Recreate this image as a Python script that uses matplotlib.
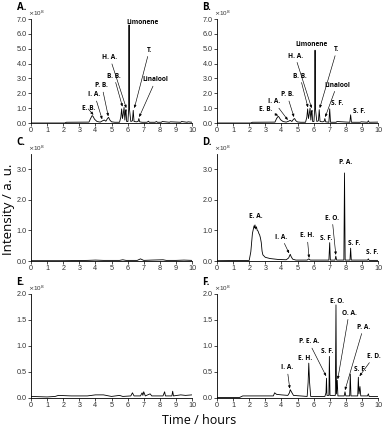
import matplotlib
matplotlib.use("Agg")
import matplotlib.pyplot as plt
from matplotlib.ticker import FormatStrFormatter


# chromatogram traces, time in hours, intensity in units of 1e8
a_time = [0, 2.1, 2.2, 3.6, 3.7, 3.8, 3.85, 3.95, 4.1, 4.3, 4.45, 4.55, 4.65,
          4.75, 4.82, 4.9, 5.0, 5.2, 5.5, 5.58, 5.63, 5.68, 5.73, 5.78, 5.83,
          5.87, 5.9, 5.94, 6.02, 6.07, 6.09, 6.11, 6.2, 6.3, 6.35, 6.4, 6.55,
          6.65, 6.7, 6.75, 6.9, 7.2, 7.3, 7.35, 7.7, 7.8, 7.85, 8.1, 8.15,
          8.6, 8.65, 9.3, 9.35, 9.7, 9.75, 10]
a_int = [0, 0, 0.05, 0.06, 0.3, 0.5, 0.45, 0.25, 0.1, 0.06, 0.15, 0.2, 0.12,
         0.3, 0.38, 0.2, 0.08, 0.05, 0.05, 0.4, 0.95, 0.3, 0.6, 1.05, 0.2,
         0.7, 0.9, 0.1, 0.1, 1.0, 6.6, 1.0, 0.1, 0.15, 0.85, 0.1, 0.08,
         0.1, 0.3, 0.08, 0.05, 0.05, 0.12, 0.05, 0.05, 0.1, 0.05, 0.05, 0.1,
         0.05, 0.08, 0.05, 0.1, 0.05, 0.08, 0.05]

b_time = [0, 2.1, 2.2, 3.6, 3.7, 3.8, 3.85, 3.95, 4.1, 4.3, 4.45, 4.55, 4.65,
          4.75, 4.82, 4.9, 5.0, 5.2, 5.5, 5.58, 5.63, 5.68, 5.73, 5.78, 5.83,
          5.87, 5.9, 5.94, 6.02, 6.07, 6.09, 6.11, 6.2, 6.3, 6.35, 6.4, 6.55,
          6.65, 6.7, 6.75, 6.95, 7.0, 7.05, 7.4, 7.45, 8.25, 8.3, 8.35, 8.9,
          8.95, 9.35, 9.4, 9.45, 10]
b_int = [0, 0, 0.05, 0.06, 0.3, 0.45, 0.4, 0.22, 0.1, 0.06, 0.12, 0.18, 0.1,
         0.25, 0.3, 0.15, 0.07, 0.05, 0.05, 0.4, 0.95, 0.3, 0.6, 1.0, 0.2,
         0.7, 0.85, 0.1, 0.1, 1.0, 4.9, 1.0, 0.1, 0.15, 0.9, 0.1, 0.08,
         0.1, 0.3, 0.08, 0.05, 0.95, 0.05, 0.05, 0.1, 0.05, 0.55, 0.05, 0.05,
         0.08, 0.05, 0.15, 0.05, 0.06]

c_time = [0, 2.0, 3.5, 4.0, 4.5, 5.5, 5.7, 5.9, 6.6, 6.8, 7.0, 7.5, 8.2, 8.4,
          9.0, 9.5, 10]
c_int = [0.01, 0.01, 0.02, 0.03, 0.02, 0.02, 0.04, 0.02, 0.02, 0.07, 0.02,
         0.03, 0.04, 0.02, 0.02, 0.03, 0.02]

d_time = [0, 2.0, 2.1, 2.2, 2.3, 2.33, 2.36, 2.4, 2.45, 2.5, 2.55, 2.6, 2.65,
          2.7, 2.75, 2.8, 2.85, 3.0, 3.3, 3.8, 4.3, 4.45, 4.55, 4.6, 4.7,
          4.9, 5.6, 5.7, 5.8, 6.95, 7.0, 7.04, 7.33, 7.38, 7.43, 7.88,
          7.92, 7.96, 8.26, 8.3, 8.34, 9.35, 9.4, 9.45, 10]
d_int = [0.01, 0.02, 0.3, 0.9, 1.15, 1.08, 1.18, 1.05, 1.12, 1.0, 0.98, 0.9,
         0.85, 0.75, 0.6, 0.32, 0.2, 0.12, 0.08, 0.05, 0.04, 0.1, 0.22, 0.15,
         0.06, 0.03, 0.03, 0.07, 0.03, 0.03, 0.6, 0.03, 0.03, 0.16, 0.03,
         0.03, 2.88, 0.03, 0.03, 0.42, 0.03, 0.03, 0.07, 0.02, 0.02]

e_time = [0, 1.0, 1.5, 1.7, 2.5, 3.5, 4.0, 4.5, 5.0, 5.5, 5.7, 6.2, 6.3,
          6.4, 6.8, 6.9, 6.95, 7.0, 7.1, 7.4, 7.5, 8.2, 8.3, 8.35, 8.75,
          8.8, 8.85, 9.3, 9.6, 10]
e_int = [0.03, 0.02, 0.03, 0.05, 0.04, 0.04, 0.06, 0.06, 0.03, 0.05, 0.03,
         0.04, 0.1, 0.04, 0.04, 0.1, 0.05, 0.12, 0.04, 0.08, 0.04, 0.04,
         0.12, 0.04, 0.04, 0.13, 0.04, 0.06, 0.05, 0.06]

f_time = [0, 1.4, 1.6, 3.5, 3.58, 3.7, 4.0, 4.4, 4.5, 4.55, 4.62, 4.75,
          5.6, 5.66, 5.7, 5.75, 5.82, 6.7, 6.77, 6.8, 6.83, 6.95, 6.98,
          7.02, 7.35, 7.39, 7.42, 7.47, 7.51, 7.9, 7.95, 8.0, 8.24, 8.28,
          8.32, 8.74, 8.78, 8.82, 8.88, 8.93, 9.35, 9.4, 9.45, 10]
f_int = [0.01, 0.01, 0.04, 0.04, 0.1, 0.07, 0.06, 0.05, 0.1, 0.16, 0.12,
         0.05, 0.03, 0.3, 0.67, 0.3, 0.03, 0.03, 0.1, 0.38, 0.05, 0.05,
         0.8, 0.05, 0.05, 1.79, 0.08, 0.34, 0.04, 0.04, 0.12, 0.04, 0.04,
         0.46, 0.04, 0.04, 0.4, 0.08, 0.22, 0.04, 0.04, 0.08, 0.03, 0.03]

# labels: text, text position (t, v), arrow tip (t, v) or None
a_labels = [("Limonene", (6.95, 6.78), None),
            ("T.", (7.35, 4.9), (6.42, 1.0)),
            ("H. A.", (4.9, 4.4), (5.92, 1.0)),
            ("B. B.", (5.15, 3.15), (5.68, 1.1)),
            ("P. B.", (4.4, 2.5), (4.8, 0.45)),
            ("I. A.", (3.95, 1.9), (4.42, 0.25)),
            ("E. B.", (3.55, 0.95), (3.88, 0.55)),
            ("Linalool", (7.75, 2.9), (6.72, 0.4))]
b_labels = [("Limonene", (5.9, 5.25), None),
            ("T.", (7.45, 4.95), (6.38, 1.0)),
            ("H. A.", (4.85, 4.5), (5.88, 1.0)),
            ("B. B.", (5.15, 3.15), (5.65, 1.05)),
            ("P. B.", (4.35, 1.9), (4.78, 0.4)),
            ("I. A.", (3.55, 1.42), (4.4, 0.2)),
            ("E. B.", (3.0, 0.9), (3.8, 0.5)),
            ("Linalool", (7.45, 2.55), (6.72, 0.4)),
            ("S. F.", (7.45, 1.3), None),
            ("S. F.", (8.85, 0.75), None)]
d_labels = [("E. A.", (2.4, 1.45), None),
            ("I. A.", (4.0, 0.78), (4.48, 0.25)),
            ("E. H.", (5.6, 0.82), (5.72, 0.1)),
            ("S. F.", (6.8, 0.72), None),
            ("E. O.", (7.15, 1.4), (7.38, 0.2)),
            ("P. A.", (7.98, 3.22), None),
            ("S. F.", (8.55, 0.56), None),
            ("S. F.", (9.62, 0.28), None)]
f_labels = [("E. O.", (7.45, 1.86), None),
            ("O. A.", (8.2, 1.63), (7.5, 0.36)),
            ("P. A.", (9.1, 1.36), (7.95, 0.15)),
            ("P. E. A.", (5.7, 1.08), (6.78, 0.42)),
            ("S. F.", (6.85, 0.9), None),
            ("E. H.", (5.45, 0.76), None),
            ("I. A.", (4.35, 0.58), (4.52, 0.18)),
            ("S. F.", (8.9, 0.54), None),
            ("E. D.", (9.75, 0.8), (8.85, 0.42))]

W, H = 384, 428


def frame(left, top, right, bottom):
    return [left / W, 1 - bottom / H, (right - left) / W, (bottom - top) / H]


def draw_panel(fig, rect, letter, times, values, ymax, ystep, labels):

    ax = fig.add_axes(rect)
    ax.plot(times, values, color="black", lw=0.6)

    ax.set_xlim(0, 10)
    ax.set_ylim(0, ymax)
    ax.set_xticks(range(0, 11))
    yt = []
    y = 0.0
    while y <= ymax + 1e-9:
        yt.append(y)
        y += ystep
    ax.set_yticks(yt)
    ax.yaxis.set_major_formatter(FormatStrFormatter("%.1f"))

    for side in ["top", "right"]:
        ax.spines[side].set_visible(False)
    for side in ["left", "bottom"]:
        ax.spines[side].set_linewidth(0.6)

    ax.tick_params(length=2, width=0.5, labelsize=5.2, pad=1,
                   labelcolor="#333333")
    for lab in ax.get_xticklabels() + ax.get_yticklabels():
        lab.set_family("Liberation Sans")

    ax.text(-0.02, 1.01, r"$\times$10$^8$", transform=ax.transAxes,
            fontsize=4.5, family="Liberation Sans", color="#333333",
            ha="left", va="bottom")
    ax.text(-0.09, 1.06, letter, transform=ax.transAxes, fontsize=7,
            family="Open Sans", weight="bold", ha="left", va="bottom")

    for text, pos, tip in labels:
        if tip is None:
            ax.text(pos[0], pos[1], text, fontsize=4.7, family="Open Sans",
                    weight="bold", ha="center", va="center")
        else:
            ax.annotate(text, xy=tip, xytext=pos, fontsize=4.7,
                        family="Open Sans", weight="bold",
                        ha="center", va="center",
                        arrowprops=dict(arrowstyle="-|>,head_length=0.35,head_width=0.15",
                                        lw=0.45, color="black",
                                        shrinkA=0, shrinkB=0))
    return ax


def main():

    fig = plt.figure(figsize=(W / 100, H / 100), dpi=100)

    draw_panel(fig, frame(31, 19, 192, 123), "A.", a_time, a_int, 7.0, 1.0, a_labels)
    draw_panel(fig, frame(217, 19, 378, 123), "B.", b_time, b_int, 7.0, 1.0, b_labels)
    draw_panel(fig, frame(31, 154, 192, 261), "C.", c_time, c_int, 3.5, 1.0, [])
    draw_panel(fig, frame(217, 154, 378, 261), "D.", d_time, d_int, 3.5, 1.0, d_labels)
    draw_panel(fig, frame(31, 294, 192, 398), "E.", e_time, e_int, 2.0, 0.5, [])
    draw_panel(fig, frame(217, 294, 378, 398), "F.", f_time, f_int, 2.0, 0.5, f_labels)

    fig.text(9 / W, 1 - 209 / H, "Intensity / a. u.", rotation=90,
             fontsize=9.5, family="Open Sans", ha="center", va="center")
    fig.text(199 / W, 1 - 420 / H, "Time / hours", fontsize=9,
             family="Open Sans", ha="center", va="center")

    fig.savefig("out.png", dpi=100)


if __name__ == "__main__":
    main()
